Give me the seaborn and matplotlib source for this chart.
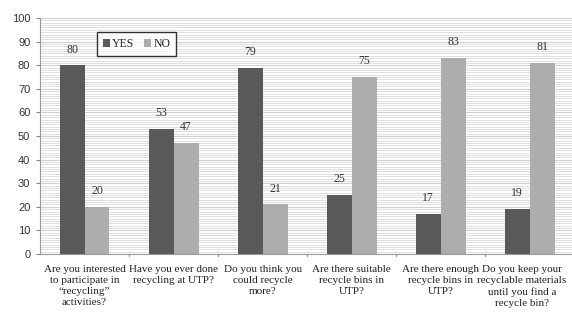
import pandas as pd
import seaborn as sns
import matplotlib.pyplot as plt
import matplotlib.transforms as mtransforms
import numpy as np

# Data
questions = [
    'Are you interested\nto participate in\n\u201crecycling\u201d\nactivities?',
    'Have you ever done\nrecycling at UTP?',
    'Do you think you\ncould recycle\nmore?',
    'Are there suitable\nrecycle bins in\nUTP?',
    'Are there enough\nrecycle bins in\nUTP?',
    'Do you keep your\nrecyclable materials\nuntil you find a\nrecycle bin?',
]
yes_vals = [80, 53, 79, 25, 17, 19]
no_vals = [20, 47, 21, 75, 83, 81]
answers = ['YES', 'NO']

df = pd.DataFrame({'question': questions * 2,
                   'answer': ['YES'] * len(questions) + ['NO'] * len(questions),
                   'value': yes_vals + no_vals})

sns.set_style('white')
plt.rcParams['font.family'] = ['Liberation Serif', 'DejaVu Serif']

fig = plt.figure(figsize=(5.72, 3.16), dpi=100)
ax = fig.add_axes([0.070, 0.196, 0.934, 0.747])

# striped background
for y in np.arange(1, 100, 1):
    ax.axhline(y, color='#dedede', lw=0.7, zorder=0)
for y in np.arange(10, 101, 10):
    ax.axhline(y, color='#cfcfcf', lw=0.8, zorder=0)

sns.barplot(data=df, x='question', y='value', hue='answer', hue_order=answers,
            palette=['#595959', '#adadad'], width=0.56, saturation=1,
            linewidth=0, ax=ax, zorder=2)

for cont in ax.containers:
    ax.bar_label(cont, fmt='%d', padding=7, fontsize=8.5, color='#333333')

ax.set_ylim(0, 100)
ax.set_xlim(-0.5, 5.5)
ax.set_yticks(range(0, 101, 10))
ax.set_yticklabels([str(v) for v in range(0, 101, 10)],
                   family='Liberation Sans', fontsize=8, color='#333333')
ax.set_xticks(range(6))
ax.set_xticklabels(questions, fontsize=8, color='#222222', linespacing=1.3)
ax.tick_params(axis='x', length=0, pad=8)
ax.tick_params(axis='y', length=3, color='#888888', left=True, pad=4)
# last label sits against the right edge, nudge it in a little
lab = ax.get_xticklabels()[-1]
lab.set_transform(lab.get_transform() +
                  mtransforms.ScaledTranslation(-8 / 100, 0, fig.dpi_scale_trans))
# small ticks at category boundaries
for b in np.arange(0.5, 5.5, 1):
    ax.plot([b, b], [0, -0.9], color='#888888', lw=0.8, clip_on=False)
ax.set_xlabel('')
ax.set_ylabel('')

for s in ['top', 'right']:
    ax.spines[s].set_visible(False)
ax.spines['left'].set_color('#999999')
ax.spines['bottom'].set_color('#999999')
ax.spines['left'].set_linewidth(0.8)
ax.spines['bottom'].set_linewidth(0.8)

leg = ax.legend(loc='upper left', bbox_to_anchor=(0.095, 0.965), ncol=2,
                frameon=True, fontsize=8.5, handlelength=0.6, handleheight=0.6,
                handletextpad=0.2, columnspacing=0.8, borderpad=0.5,
                fancybox=False, title=None)
leg.get_frame().set_edgecolor('black')
leg.get_frame().set_linewidth(1.0)

fig.savefig('out.png', dpi=100)
